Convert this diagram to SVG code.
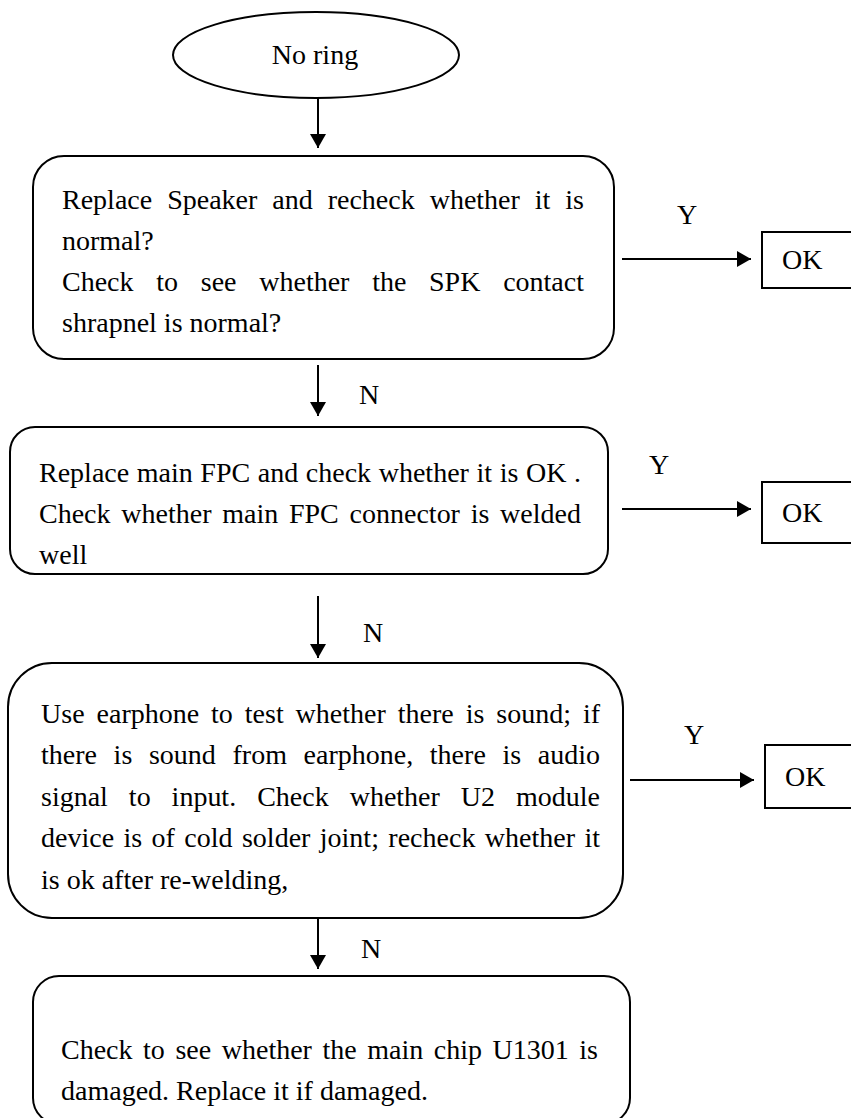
<svg xmlns="http://www.w3.org/2000/svg" width="851" height="1118" viewBox="0 0 851 1118">
<style>
.shape{fill:#fff;stroke:#000;stroke-width:2}
.t{font-family:"Liberation Serif","Times New Roman",serif;font-size:28px;fill:#000}
.c{stroke:#000;stroke-width:2;fill:none}
</style>
<defs>
<marker id="ah" viewBox="0 0 14 16" refX="14" refY="8" markerWidth="14" markerHeight="16" markerUnits="userSpaceOnUse" orient="auto">
<path d="M0,0 L14,8 L0,16 Z" fill="#000"/>
</marker>
</defs>
<rect width="851" height="1118" fill="#fff"/>
<g id="start">
<ellipse class="shape" cx="316" cy="55" rx="143" ry="43"/>
<text class="t" x="315" y="64" text-anchor="middle">No ring</text>
</g>
<g id="step1">
<rect class="shape" x="33" y="156" width="581" height="203" rx="31" ry="31"/>
<text class="t" x="62" y="209" word-spacing="7.95" textLength="522" lengthAdjust="spacing">Replace Speaker and recheck whether it is</text>
<text class="t" x="62" y="250">normal?</text>
<text class="t" x="62" y="291" word-spacing="15.7" textLength="522" lengthAdjust="spacing">Check to see whether the SPK contact</text>
<text class="t" x="62" y="332">shrapnel is normal?</text>
</g>
<g id="ok1">
<rect class="shape" x="762" y="232" width="100" height="56"/>
<text class="t" x="782" y="269">OK</text>
</g>
<g id="step2">
<rect class="shape" x="10" y="427" width="598" height="147" rx="25" ry="25"/>
<text class="t" x="39" y="482" word-spacing="0.6" textLength="542" lengthAdjust="spacing">Replace main FPC and check whether it is OK .</text>
<text class="t" x="39" y="523" word-spacing="3.75" textLength="542" lengthAdjust="spacing">Check whether main FPC connector is welded</text>
<text class="t" x="39" y="564">well</text>
</g>
<g id="ok2">
<rect class="shape" x="762" y="482" width="100" height="61"/>
<text class="t" x="782" y="522">OK</text>
</g>
<g id="step3">
<rect class="shape" x="8" y="663" width="615" height="255" rx="44" ry="44"/>
<text class="t" x="41" y="723" word-spacing="4.9" textLength="559" lengthAdjust="spacing">Use earphone to test whether there is sound; if</text>
<text class="t" x="41" y="764" word-spacing="9.6" textLength="559" lengthAdjust="spacing">there is sound from earphone, there is audio</text>
<text class="t" x="41" y="806" word-spacing="14" textLength="559" lengthAdjust="spacing">signal to input. Check whether U2 module</text>
<text class="t" x="41" y="847" word-spacing="2.4" textLength="559" lengthAdjust="spacing">device is of cold solder joint; recheck whether it</text>
<text class="t" x="41" y="889">is ok after re-welding,</text>
</g>
<g id="ok3">
<rect class="shape" x="765" y="745" width="100" height="63"/>
<text class="t" x="785" y="786">OK</text>
</g>
<g id="step4">
<rect class="shape" x="33" y="976" width="597" height="148" rx="26" ry="26"/>
<text class="t" x="61" y="1059" word-spacing="3.55" textLength="537" lengthAdjust="spacing">Check to see whether the main chip U1301 is</text>
<text class="t" x="61" y="1100">damaged. Replace it if damaged.</text>
</g>
<g id="connectors">
<line class="c" x1="318" y1="98" x2="318" y2="148" marker-end="url(#ah)"/>
<line class="c" x1="622" y1="259" x2="751" y2="259" marker-end="url(#ah)"/>
<text class="t" x="677" y="224">Y</text>
<line class="c" x1="318" y1="365" x2="318" y2="416" marker-end="url(#ah)"/>
<text class="t" x="359" y="404">N</text>
<line class="c" x1="622" y1="509" x2="751" y2="509" marker-end="url(#ah)"/>
<text class="t" x="649" y="474">Y</text>
<line class="c" x1="318" y1="596" x2="318" y2="658" marker-end="url(#ah)"/>
<text class="t" x="363" y="642">N</text>
<line class="c" x1="630" y1="780" x2="754" y2="780" marker-end="url(#ah)"/>
<text class="t" x="684" y="744">Y</text>
<line class="c" x1="318" y1="918" x2="318" y2="969" marker-end="url(#ah)"/>
<text class="t" x="361" y="958">N</text>
</g>
</svg>
